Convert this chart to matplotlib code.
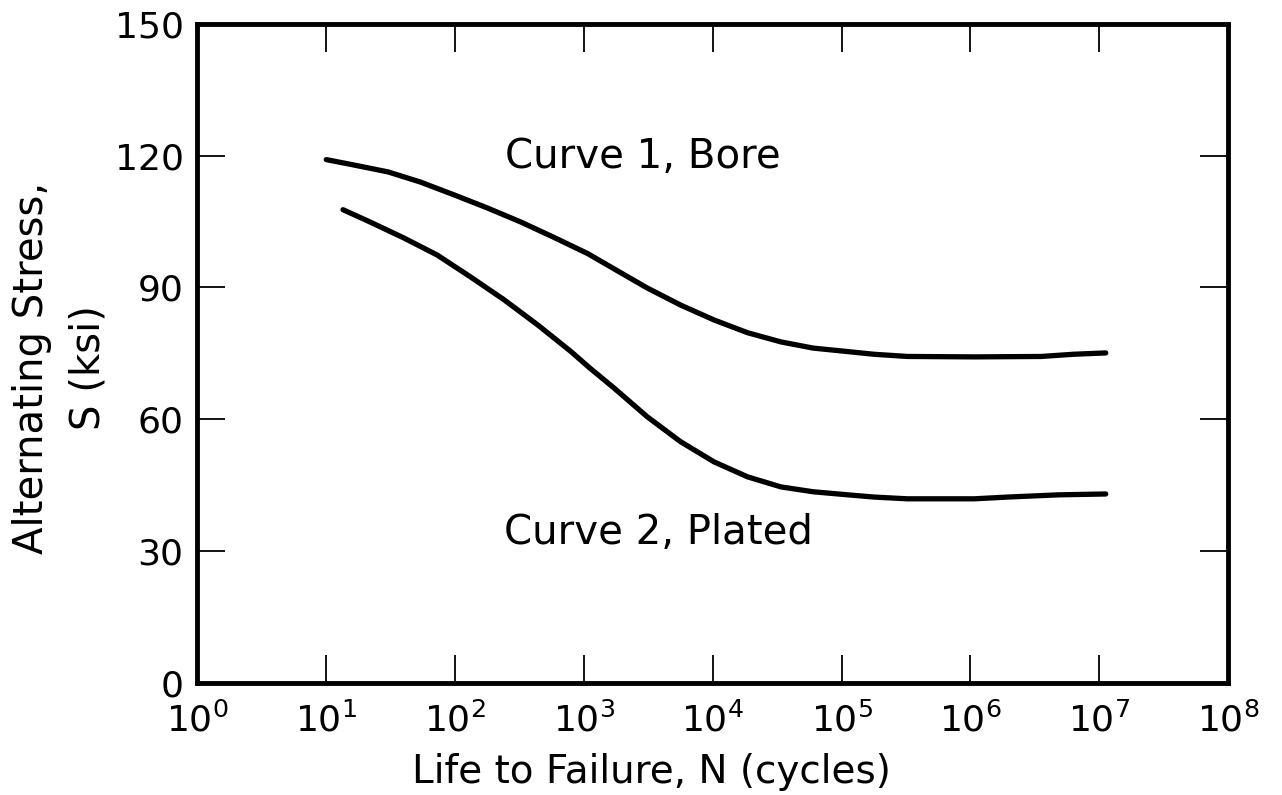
import numpy as np
import matplotlib
matplotlib.use("Agg")
import matplotlib.pyplot as plt

# log10(N) and stress in ksi
bore_logn = [1.0, 1.21, 1.48, 1.73, 1.99, 2.25, 2.51, 2.76, 3.03, 3.23, 3.49, 3.75,
             4.01, 4.27, 4.53, 4.78, 5.05, 5.25, 5.51, 6.03, 6.55, 6.8, 7.05]
bore_s = [119.1, 117.9, 116.3, 114.0, 111.1, 108.1, 104.9, 101.5, 97.7, 94.3, 89.9, 86.0,
          82.6, 79.7, 77.6, 76.2, 75.4, 74.8, 74.3, 74.2, 74.3, 74.8, 75.1]
plated_logn = [1.13, 1.34, 1.6, 1.86, 2.12, 2.38, 2.64, 2.9, 3.04, 3.23, 3.49, 3.75,
               4.01, 4.27, 4.53, 4.78, 5.05, 5.25, 5.51, 6.03, 6.29, 6.68, 7.05]
plated_s = [107.7, 104.9, 101.3, 97.4, 92.4, 87.2, 81.5, 75.4, 71.8, 67.2, 60.6, 54.9,
            50.3, 46.9, 44.6, 43.5, 42.8, 42.3, 41.9, 41.9, 42.3, 42.8, 43.0]

y_ticks = [0, 30, 60, 90, 120, 150]
x_ticks = [10.0**k for k in range(0, 9)]

plt.rcParams["font.family"] = "DejaVu Sans"
fig = plt.figure(figsize=(12.82, 7.95), dpi=100)
ax = fig.add_axes([0.154, 0.141, 0.804, 0.829])

bore_n = [10.0**v for v in bore_logn]
plated_n = [10.0**v for v in plated_logn]
ax.plot(bore_n, bore_s, color="black", lw=3.8, solid_capstyle="round",
        solid_joinstyle="round")
ax.plot(plated_n, plated_s, color="black", lw=3.8, solid_capstyle="round",
        solid_joinstyle="round")

ax.set_xscale("log")
ax.set_xlim(1, 1e8)
ax.set_ylim(0, 150)
ax.set_xticks(x_ticks)
ax.set_yticks(y_ticks)
ax.xaxis.set_minor_locator(matplotlib.ticker.NullLocator())

ax.tick_params(axis="both", which="major", direction="in", length=20, width=1.3,
               labelsize=26, top=True, right=True, colors="black")
ax.tick_params(axis="x", pad=14)
ax.tick_params(axis="y", pad=10)
for s in ax.spines.values():
    s.set_linewidth(3.5)

ax.text(10**3.46, 119.8, "Curve 1, Bore", fontsize=29, ha="center", va="center")
ax.text(10**3.58, 34.2, "Curve 2, Plated", fontsize=29, ha="center", va="center")

# x label sits right at the bottom edge, as in the reference
fig.text(0.508, 1 - 772/795, "Life to Failure, N (cycles)", fontsize=28,
         ha="center", va="center")
fig.text(0.047, 1 - 368/795, "Alternating Stress,\nS (ksi)", fontsize=29,
         ha="center", va="center", rotation=90, multialignment="center",
         linespacing=1.55)

fig.savefig("out.png", dpi=100)
